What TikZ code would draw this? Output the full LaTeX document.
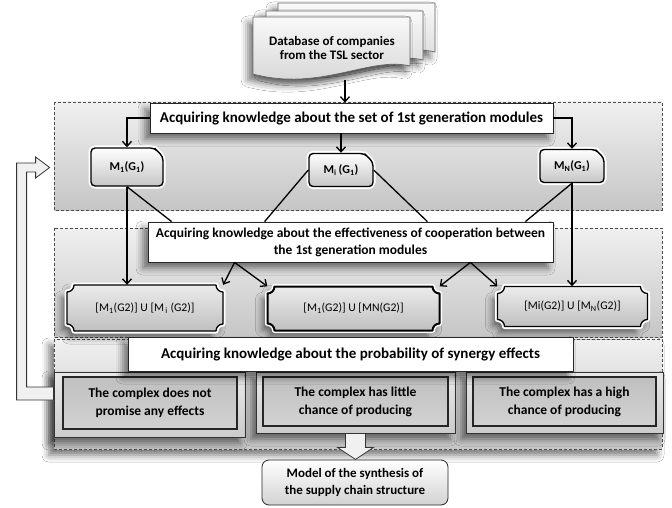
\documentclass[tikz,border=0pt]{standalone}
\usepackage{fontspec}
\setmainfont{Carlito}
\usetikzlibrary{arrows.meta,shapes.misc,shadows.blur,calc}

\newcommand\tsldoc[2]{%
  \draw[doc,shift={(#1,#2)}] (253,-17) -- (410,-17) -- (410,-66)
    .. controls (370,-56) and (320,-92) .. (253,-74) -- cycle;}

\newcommand\plaque[5][]{%
  \draw[gbox,#1] ({#2-#4/2+7},{#3+#5/2}) -- ({#2+#4/2-7},{#3+#5/2})
    arc[start angle=180,end angle=270,radius=7] -- ({#2+#4/2},{#3-#5/2+7})
    arc[start angle=90,end angle=180,radius=7] -- ({#2-#4/2+7},{#3-#5/2})
    arc[start angle=0,end angle=90,radius=7] -- ({#2-#4/2},{#3+#5/2-7})
    arc[start angle=270,end angle=360,radius=7] -- cycle;}

\begin{document}
\begin{tikzpicture}[x=1pt,y=1pt,
every node/.style={font=\bfseries, align=center, inner sep=0pt},
softshadow/.style={blur shadow={shadow xshift=-5pt,shadow yshift=-6pt,shadow blur radius=7pt,shadow opacity=55}},
panel/.style={draw=black!70, dash pattern=on 3pt off 2pt, line width=.7pt, top color=gray!12, bottom color=gray!45},
doc/.style={draw=black!60, line width=.7pt, top color=gray!5, bottom color=gray!35, softshadow},
title/.style={draw=black!85, line width=.8pt, fill=white, softshadow},
gmod/.style={chamfered rectangle, chamfered rectangle corners=north east, chamfered rectangle xsep=8pt,
  rounded corners=4pt, line join=round, draw, line width=1.4pt, top color=white, bottom color=gray!45,
  preaction={draw=white,line width=5pt,line join=round}, font=\bfseries\fontsize{12}{14}\selectfont},
gbox/.style={draw, line width=1.3pt, line join=round, top color=gray!15, bottom color=gray!50, softshadow, preaction={draw=white,line width=5pt,line join=round}},
gtext/.style={font=\mdseries\fontsize{11.7}{13}\selectfont},
frame/.style={draw=black!80, line width=.8pt, top color=gray!18, bottom color=gray!40, softshadow},
effect/.style={draw=black!85, line width=1.3pt, top color=gray!50, bottom color=gray!35, font=\bfseries\fontsize{13.5}{18}\selectfont},
modelbox/.style={draw=black!85, line width=.8pt, rounded corners=7pt, top color=white, bottom color=gray!35, font=\bfseries\fontsize{13}{17}\selectfont},
conn/.style={-{Straight Barb[length=5pt,width=9pt]}, line width=1.3pt},
link/.style={line width=1.3pt},
hollow/.style={draw=black!80, line width=.8pt, fill=gray!12}
]
\useasboundingbox[fill=white] (0,0) rectangle (672,-508);

\draw[panel] (54,-102) rectangle (662,-210);
\draw[panel] (54,-228) rectangle (662,-337);
\draw[panel, softshadow] (54,-339) rectangle (662,-449);

\tsldoc{25}{14}
\tsldoc{13}{6}
\tsldoc{0}{0}
\node (db) at (332,-48) [font=\bfseries\fontsize{13}{14}\selectfont] {Database of companies\\from the TSL sector};
\coordinate (dbout) at (345,-80);

\node (t1) [title, minimum width=403, minimum height=30, font=\bfseries\fontsize{15}{16}\selectfont] at (351.5,-118)
  {Acquiring knowledge about the set of 1st generation modules};

\node (m1) [gmod, minimum width=72, minimum height=38] at (127,-167) {M\textsubscript{1}(G\textsubscript{1})};
\node (mi) [gmod, minimum width=64, minimum height=33] at (341,-170) {M\textsubscript{i}\,(G\textsubscript{1})};
\node (mn) [gmod, minimum width=64, minimum height=33] at (572,-166) {M\textsubscript{N}(G\textsubscript{1})};

\plaque{145}{-308}{156}{46}
\node (g1) [gtext, minimum width=156, minimum height=46] at (145,-308) {[M\textsubscript{1}(G2)] U [M\textsubscript{\,i} (G2)]};
\plaque[line width=2pt]{353.5}{-308.5}{172}{44}
\node (g2) [gtext, minimum width=172, minimum height=44] at (353.5,-308.5) {[M\textsubscript{1}(G2)] U [MN(G2)]};
\plaque{572.5}{-306.5}{150}{40}
\node (g3) [gtext, minimum width=150, minimum height=40] at (572.5,-306.5) {[Mi(G2)] U [M\textsubscript{N}(G2)]};

\node (t2) [title, minimum width=405, minimum height=40, font=\bfseries\fontsize{13.5}{17}\selectfont] at (350.5,-242)
  {Acquiring knowledge about the effectiveness of cooperation between\\the 1st generation modules};

\node (e1f) [frame, minimum width=191, minimum height=65] at (149.5,-404.5) {};
\node (e1) [effect, minimum width=174, minimum height=52] at (150,-403) {The complex does not\\promise any effects};
\node (e2f) [frame, minimum width=199, minimum height=61] at (355.5,-402.5) {};
\node (e2) [effect, minimum width=185, minimum height=49] at (355.5,-401.5) {The complex has little\\chance of producing};
\node (e3f) [frame, minimum width=197, minimum height=61] at (564.5,-402.5) {};
\node (e3) [effect, minimum width=183, minimum height=49] at (564.5,-401.5) {The complex has a high\\chance of producing};

\node (t3) [title, minimum width=445, minimum height=34, font=\bfseries\fontsize{15}{16}\selectfont] at (350.5,-354)
  {Acquiring knowledge about the probability of synergy effects};

\node (model) [modelbox, minimum width=186, minimum height=45] at (355,-482.5) {Model of the synthesis of\\the supply chain structure};

\draw[conn] (dbout) -- (t1.north -| dbout);
\draw[conn] (t1.west) -| (m1.north);
\draw[conn] (t1.south -| mi.north) -- (mi.north);
\draw[conn] (t1.east) -| (mn.north);

\draw[conn] (m1.south) -- (g1.north -| m1.south);
\draw[conn] (mn.south) -- (g3.north -| mn.south);
\draw[link] (m1.south) -- ($(t2.north west)+(24,0)$);
\draw[link] (mi.west) -- ($(t2.north west)+(117,0)$);
\draw[link] (mi.east) -- ($(t2.north east)+(-126,0)$);
\draw[link] (mn.south) -- ($(t2.north east)+(-28,0)$);

\coordinate (split1) at ($(t2.south west)+(87,0)$);
\coordinate (split2) at ($(t2.south east)+(-83,0)$);
\draw[conn] (split1) -- (g1.north east);
\draw[conn] (split1) -- (g2.north west);
\draw[conn] (split2) -- (g2.north east);
\draw[conn] (split2) -- (g3.north west);

\draw[hollow] ([xshift=-10]e2f.south) -- ++(0,-14) -- ++(-8,0) -- ++(18,-12) -- ++(18,12) -- ++(-8,0) -- ++(0,14) -- cycle;

\draw[hollow] ([yshift=17.5]e1f.west) -- ++(-27,0) -- ++(0,215) -- ++(9,0) -- ++(0,-6) -- ++(14,10.5)
  -- ++(-14,10.5) -- ++(0,-6) -- ++(-19,0) -- ++(0,-237) -- ++(37,0) -- cycle;

\end{tikzpicture}
\end{document}
